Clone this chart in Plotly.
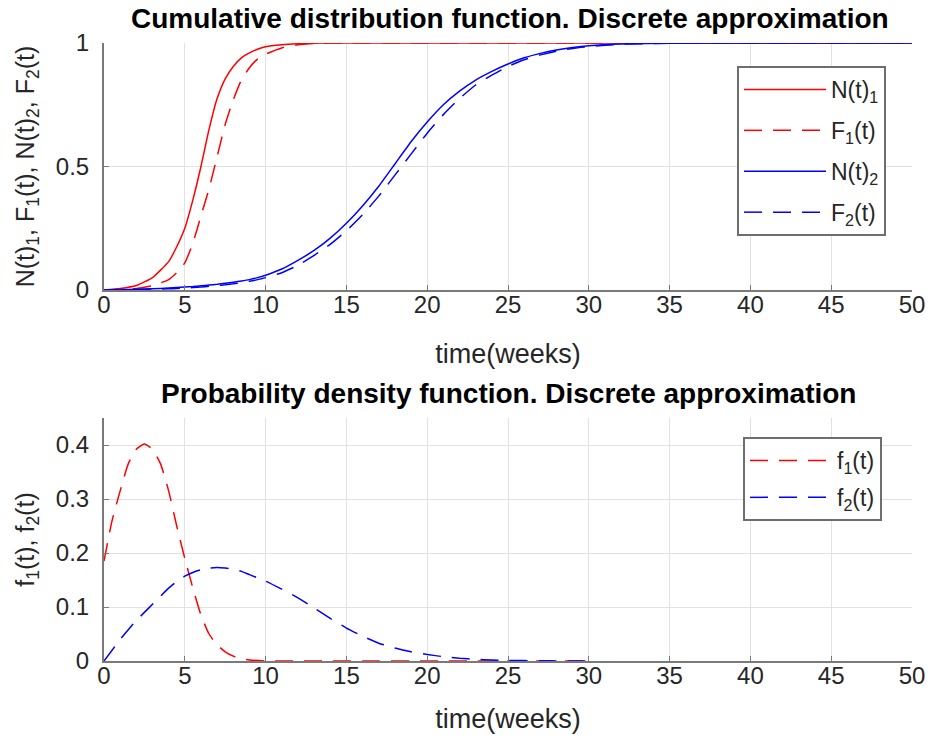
import plotly.graph_objects as go

# ---------------- data ----------------
t_cdf = [0, 1, 2, 3, 4, 4.5, 5, 5.5, 6, 6.5, 7, 7.5, 8, 8.5, 9, 9.5, 10,
         11, 12, 13, 14, 15, 16, 17, 18, 19, 20, 21, 22, 23, 24, 25, 26, 27, 28, 29, 30,
         32, 35, 40, 45, 50]

N1 = [0, 0.006, 0.018, 0.05, 0.115, 0.175, 0.25, 0.365, 0.5, 0.65, 0.775, 0.855, 0.905, 0.94, 0.96, 0.975, 0.985,
      0.993, 0.997, 0.999, 1, 1, 1, 1, 1, 1, 1, 1, 1, 1, 1, 1, 1, 1, 1, 1, 1,
      1, 1, 1, 1, 1]
F1 = [0, 0.002, 0.006, 0.018, 0.042, 0.07, 0.11, 0.19, 0.3, 0.41, 0.54, 0.67, 0.77, 0.85, 0.9, 0.935, 0.955,
      0.98, 0.993, 0.998, 1, 1, 1, 1, 1, 1, 1, 1, 1, 1, 1, 1, 1, 1, 1, 1, 1,
      1, 1, 1, 1, 1]
N2 = [0, 0.002, 0.003, 0.005, 0.008, 0.01, 0.012, 0.014, 0.017, 0.02, 0.023, 0.027, 0.031, 0.036, 0.042, 0.05, 0.06,
      0.085, 0.12, 0.16, 0.21, 0.27, 0.34, 0.42, 0.51, 0.6, 0.68, 0.75, 0.805, 0.85, 0.885, 0.915, 0.94, 0.958, 0.972, 0.982, 0.989,
      0.996, 0.999, 1, 1, 1]
F2 = [0, 0.001, 0.002, 0.003, 0.005, 0.006, 0.008, 0.01, 0.012, 0.015, 0.018, 0.021, 0.025, 0.03, 0.035, 0.042, 0.05,
      0.07, 0.1, 0.14, 0.185, 0.24, 0.305, 0.38, 0.465, 0.55, 0.635, 0.71, 0.775, 0.83, 0.87, 0.905, 0.932, 0.952, 0.967, 0.978, 0.986,
      0.995, 0.999, 1, 1, 1]

t_pdf = [0, 0.5, 1, 1.5, 2, 2.5, 3, 3.5, 4, 4.5, 5, 5.5, 6, 6.5, 7, 7.5, 8, 8.5, 9,
         10, 11, 12, 13, 14, 15, 16, 17, 18, 19, 20, 21, 22, 23, 24, 25, 26, 27, 28, 29, 30]
f1 = [0.185, 0.26, 0.315, 0.365, 0.392, 0.402, 0.392, 0.365, 0.315, 0.25, 0.19, 0.135, 0.085, 0.05, 0.03, 0.017, 0.009, 0.004, 0.002,
      0, 0, 0, 0, 0, 0, 0, 0, 0, 0, 0, 0, 0, 0, 0, 0, 0, 0, 0, 0, 0]
f2 = [0, 0.02, 0.04, 0.058, 0.075, 0.09, 0.105, 0.12, 0.135, 0.147, 0.157, 0.164, 0.169, 0.172, 0.173, 0.172, 0.17, 0.166, 0.16,
      0.148, 0.133, 0.117, 0.098, 0.079, 0.061, 0.046, 0.033, 0.024, 0.017, 0.012, 0.008, 0.005, 0.003, 0.002, 0.001,
      0.0007, 0.0004, 0.0002, 0.0001, 0]

x_ticks = [0, 5, 10, 15, 20, 25, 30, 35, 40, 45, 50]
y1_ticks = [0, 0.5, 1]
y2_ticks = [0, 0.1, 0.2, 0.3, 0.4]

# ---------------- style ----------------
RED = "#ff0000"
BLUE = "#0000ff"
DASH = "18px,11px"
FONT = "Liberation Sans, Arial, sans-serif"
TXT = "#262626"
AX = "#7a7a7a"
GRID = "#e2e2e2"

fig = go.Figure()

def add(x, y, color, dash, name, xa, ya, leg, grp):
    fig.add_trace(go.Scatter(
        x=x, y=y, mode="lines", name=name,
        line=dict(color=color, width=1.5, dash=dash, shape="spline", smoothing=0.5),
        xaxis=xa, yaxis=ya, legend=leg, legendgroup=grp))

add(t_cdf, N1, RED, "solid", "N(t)<sub>1</sub>", "x", "y", "legend", "a")
add(t_cdf, F1, RED, DASH, "F<sub>1</sub>(t)", "x", "y", "legend", "b")
add(t_cdf, N2, BLUE, "solid", "N(t)<sub>2</sub>", "x", "y", "legend", "c")
add(t_cdf, F2, BLUE, DASH, "F<sub>2</sub>(t)", "x", "y", "legend", "d")
add(t_pdf, f1, RED, DASH, "f<sub>1</sub>(t)", "x2", "y2", "legend2", "e")
add(t_pdf, f2, BLUE, DASH, "f<sub>2</sub>(t)", "x2", "y2", "legend2", "f")

W, H = 930, 744
ML, MR, MT, MB = 104, 18, 43, 83
PW = W - ML - MR  # plot area width
PH = H - MT - MB  # plot area height
ax_common = dict(
    showline=True, linecolor=AX, linewidth=2, mirror=False,
    ticks="inside", ticklen=5, tickcolor=AX, tickwidth=1,
    showgrid=True, gridcolor=GRID, gridwidth=1, zeroline=False,
    tickfont=dict(family=FONT, size=24, color=TXT), automargin=False,
)
xtitle_font = dict(family=FONT, size=27, color=TXT)
xax = dict(ax_common, range=[0, 50], tickvals=x_ticks, domain=[0, 1], ticklabelstandoff=-8)
ytitle_font = dict(family=FONT, size=25, color=TXT)

leg_common = dict(
    font=dict(family=FONT, size=23, color=TXT),
    bordercolor="#6e6e6e", borderwidth=2, bgcolor="white",
    xanchor="left", yanchor="top", itemwidth=82,
    traceorder="grouped",
)

fig.update_layout(
    width=W, height=H,
    margin=dict(l=ML, r=MR, t=MT, b=MB),
    paper_bgcolor="white", plot_bgcolor="white",
    showlegend=True,
    xaxis=dict(xax, anchor="y", title=dict(text="time(weeks)", font=xtitle_font, standoff=27)),
    yaxis=dict(ax_common, range=[0, 1], tickvals=y1_ticks, ticktext=["0", "0.5", "1"],
               domain=[(661 - 290) / PH, 1], anchor="x", ticklabelstandoff=8,
               title=dict(text="N(t)<sub>1</sub>, F<sub>1</sub>(t), N(t)<sub>2</sub>, F<sub>2</sub>(t)",
                          font=ytitle_font, standoff=14)),
    xaxis2=dict(xax, anchor="y2", title=dict(text="time(weeks)", font=xtitle_font, standoff=21)),
    yaxis2=dict(ax_common, range=[0, 0.45], tickvals=y2_ticks, ticktext=["0", "0.1", "0.2", "0.3", "0.4"],
                domain=[0, (661 - 418) / PH], anchor="x2", ticklabelstandoff=8,
                title=dict(text="f<sub>1</sub>(t), f<sub>2</sub>(t)", font=ytitle_font, standoff=14)),
    legend=dict(leg_common, x=(737 - ML) / PW, y=1 - (66 - MT) / PH, tracegroupgap=8),
    legend2=dict(leg_common, x=(743 - ML) / PW, y=1 - (437 - MT) / PH, tracegroupgap=4),
    annotations=[
        dict(text="<b>Cumulative distribution function. Discrete approximation</b>",
             x=(510 - ML) / PW, y=1 + (MT - 18) / PH, xref="paper", yref="paper", showarrow=False,
             xanchor="center", yanchor="middle", font=dict(family=FONT, size=28, color="#000000")),
        dict(text="<b>Probability density function. Discrete approximation</b>",
             x=(508 - ML) / PW, y=1 - (393 - MT) / PH, xref="paper", yref="paper", showarrow=False,
             xanchor="center", yanchor="middle", font=dict(family=FONT, size=28, color="#000000")),
    ],
)

fig.write_html("out.html", config={"displayModeBar": False},
               post_script="document.body.style.margin='0';")
